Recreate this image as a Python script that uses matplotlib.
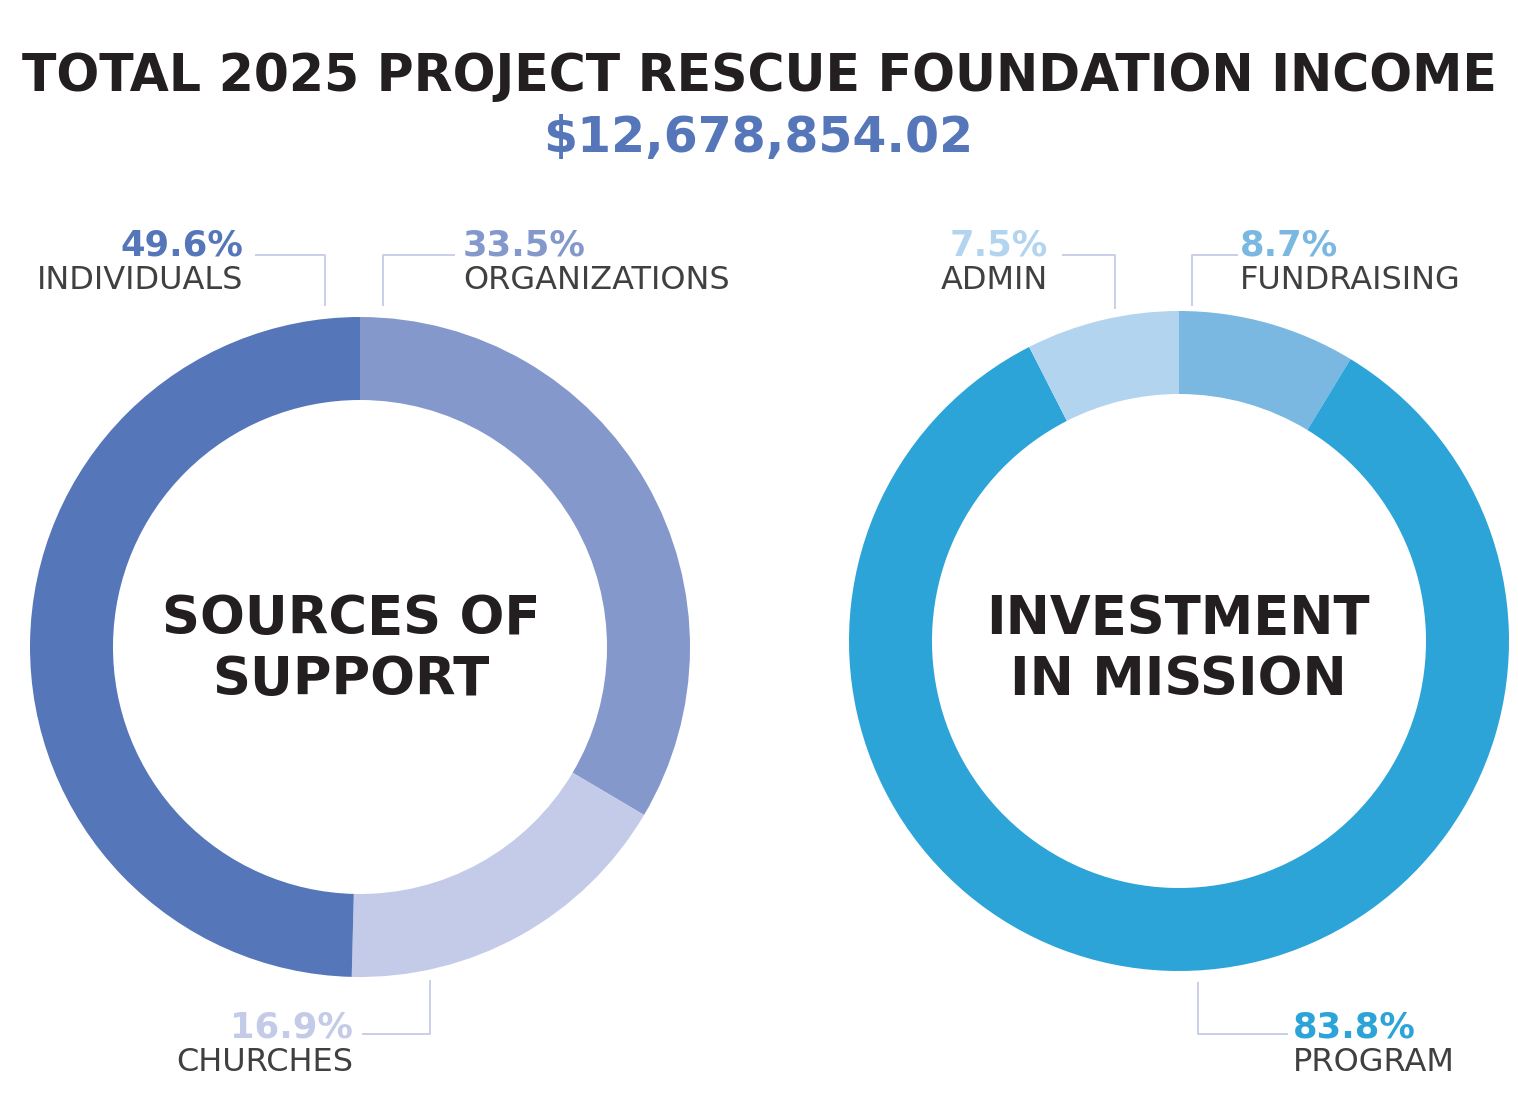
import matplotlib
matplotlib.use("Agg")
import matplotlib.pyplot as plt

W, H = 1518, 1107

# data
title = "TOTAL 2025 PROJECT RESCUE FOUNDATION INCOME"
total_income = "$12,678,854.02"

support_labels = ["ORGANIZATIONS", "CHURCHES", "INDIVIDUALS"]
support_values = [33.5, 16.9, 49.6]
support_colors = ["#8498cc", "#c4cbe9", "#5676ba"]

mission_labels = ["FUNDRAISING", "PROGRAM", "ADMIN"]
mission_values = [8.7, 83.8, 7.5]
mission_colors = ["#7ab8e1", "#2ca4d8", "#b3d4ef"]

LINE_C = "#c5cce6"
DARK = "#231f20"
LABEL_C = "#404040"


def Y(py):
    # pixel row (from top) -> data y
    return H - py


fig = plt.figure(figsize=(W / 100, H / 100), dpi=100)
ax = fig.add_axes([0, 0, 1, 1])

# donuts
for vals, cols, cx, cy in [(support_values, support_colors, 360, 647),
                           (mission_values, mission_colors, 1179, 641)]:
    ax.pie(vals, colors=cols, startangle=90, counterclock=False,
           center=(cx, Y(cy)), radius=330,
           wedgeprops=dict(width=83, linewidth=0))

ax.set_xlim(0, W)
ax.set_ylim(0, H)
ax.set_aspect("equal")
ax.axis("off")

# title block
ax.text(759, Y(91), title, ha="center", va="baseline", fontsize=36.4,
        fontweight="bold", color=DARK, family="DejaVu Sans")
ax.text(758, Y(152), total_income, ha="center", va="baseline", fontsize=35.2,
        fontweight="bold", color=support_colors[2], family="DejaVu Sans")

# centre titles
for cx, l1, l2 in [(351, "SOURCES OF", "SUPPORT"), (1178, "INVESTMENT", "IN MISSION")]:
    ax.text(cx, Y(634), l1, ha="center", va="baseline", fontsize=38,
            fontweight="bold", color=DARK, family="DejaVu Sans")
    ax.text(cx, Y(695), l2, ha="center", va="baseline", fontsize=38,
            fontweight="bold", color=DARK, family="DejaVu Sans")

# callouts: (label, value, colour, x anchor, align, pct baseline, leader path)
callouts = [
    (support_labels[2], support_values[2], support_colors[2], 243, "right", 255,
     [(255, 255), (325, 255), (325, 306)]),
    (support_labels[0], support_values[0], support_colors[0], 463, "left", 255,
     [(383, 306), (383, 255), (455, 255)]),
    (support_labels[1], support_values[1], support_colors[1], 353, "right", 1037,
     [(430, 980), (430, 1034), (362, 1034)]),
    (mission_labels[2], mission_values[2], mission_colors[2], 1048, "right", 255,
     [(1062, 255), (1115, 255), (1115, 309)]),
    (mission_labels[0], mission_values[0], mission_colors[0], 1240, "left", 255,
     [(1192, 306), (1192, 255), (1238, 255)]),
    (mission_labels[1], mission_values[1], mission_colors[1], 1293, "left", 1037,
     [(1198, 982), (1198, 1034), (1288, 1034)]),
]

for lab, val, col, x, ha, yb, path in callouts:
    ax.text(x, Y(yb), f"{val:.1f}%", ha=ha, va="baseline", fontsize=25.5,
            fontweight="bold", color=col, family="DejaVu Sans")
    ax.text(x, Y(yb + 34), lab, ha=ha, va="baseline", fontsize=23,
            color=LABEL_C, family="DejaVu Sans")
    xs = [p[0] for p in path]
    ys = [Y(p[1]) for p in path]
    ax.plot(xs, ys, color=LINE_C, linewidth=1.3, solid_capstyle="butt")

fig.savefig("out.png", dpi=100, facecolor="white")
